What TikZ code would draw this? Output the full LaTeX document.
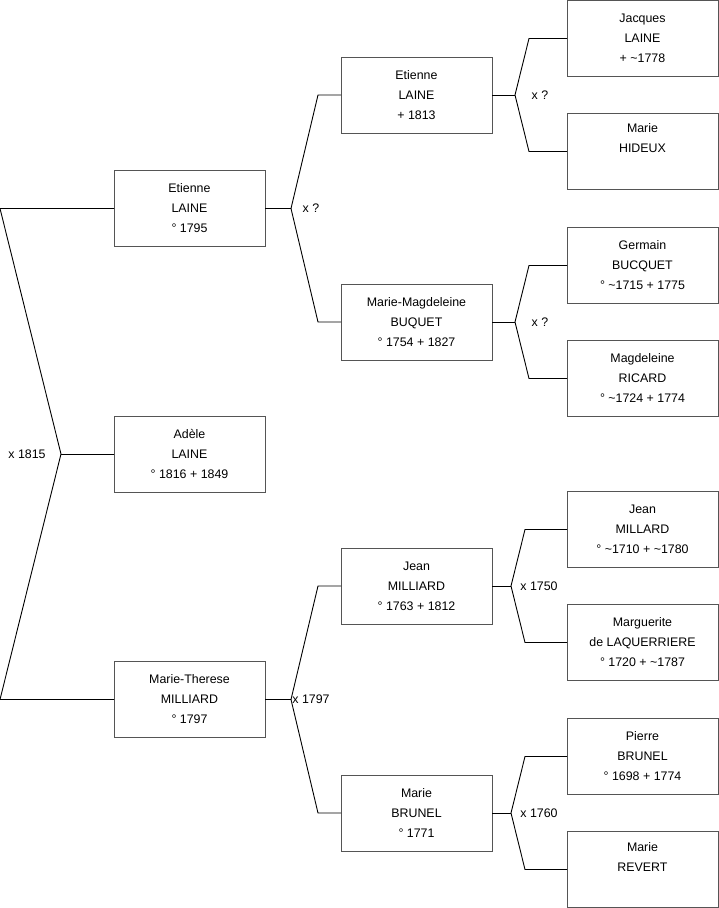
\documentclass[tikz,border=0pt]{standalone}
\usepackage{fontspec}
\setmainfont{Liberation Sans}
\usepackage{tikz}
\usetikzlibrary{
  positioning,
  calc
}
\definecolor{boxgray}{RGB}{85,85,85}
\tikzset{
  personbox/.style={
    draw=boxgray,
    line width=1pt,
    align=center,
    minimum width=151pt,
    minimum height=76pt,
    inner sep=0pt,
    outer sep=0pt,
    font=\fontsize{12.4}{20}\selectfont
  },
  link/.style={draw=black,line width=0.9pt,line join=miter},
  marriage/.style={font=\fontsize{12.4}{14}\selectfont,inner sep=0pt}
}

\begin{document}
\begin{tikzpicture}[x=1pt,y=-1pt]
  \useasboundingbox (0,0) rectangle (719,908);

  \node[personbox] (jacques) at (642.5,38.5) {Jacques\\LAINE\\+ \textasciitilde1778};
  \node[personbox,below=37pt of jacques] (hideux) {Marie\\HIDEUX\\\strut};
  \node[personbox,below=38pt of hideux] (germain) {Germain\\BUCQUET\\° \textasciitilde1715 + 1775};
  \node[personbox,below=37pt of germain] (ricard) {Magdeleine\\RICARD\\° \textasciitilde1724 + 1774};
  \node[personbox,below=75pt of ricard] (millard) {Jean\\MILLARD\\° \textasciitilde1710 + \textasciitilde1780};
  \node[personbox,below=37pt of millard] (laquerriere) {Marguerite\\de LAQUERRIERE\\° 1720 + \textasciitilde1787};
  \node[personbox,below=38pt of laquerriere] (pierre) {Pierre\\BRUNEL\\° 1698 + 1774};
  \node[personbox,below=37pt of pierre] (revert) {Marie\\REVERT\\\strut};

  \node[personbox] (etienneII) at ($(jacques)!0.5!(hideux)+(-226,0)$) {Etienne\\LAINE\\+ 1813};
  \node[personbox] (buquet) at ($(germain)!0.5!(ricard)+(-226,0)$) {Marie-Magdeleine\\BUQUET\\° 1754 + 1827};
  \node[personbox] (milliard) at ($(millard)!0.5!(laquerriere)+(-226,0)$) {Jean\\MILLIARD\\° 1763 + 1812};
  \node[personbox] (brunel) at ($(pierre)!0.5!(revert)+(-226,0)$) {Marie\\BRUNEL\\° 1771};

  \node[personbox] (etienneI) at ($(etienneII)!0.5!(buquet)+(-227,0)$) {Etienne\\LAINE\\° 1795};
  \node[personbox] (therese) at ($(milliard)!0.5!(brunel)+(-227,0)$) {Marie-Therese\\MILLIARD\\° 1797};
  \node[personbox] (adele) at ($(etienneI)!0.5!(therese)$) {Adèle\\LAINE\\° 1816 + 1849};

  \draw[link] (adele.west) -- ++(-53,0) coordinate (xAL);
  \draw[link] (etienneI.west) -- ++(-114,0) -- (xAL) -- ([xshift=-114pt]therese.west) -- (therese.west);
  \node[marriage] at ([xshift=-34pt]xAL) {x 1815};

  \draw[link] (etienneI.east) -- ++(26,0) coordinate (xEI);
  \draw[link] (etienneII.west) -- ++(-23,0) -- (xEI) -- ([xshift=-23pt]buquet.west) -- (buquet.west);
  \node[marriage] at ([xshift=20pt]xEI) {x ?};

  \draw[link] (therese.east) -- ++(26,0) coordinate (xMT);
  \draw[link] (milliard.west) -- ++(-23,0) -- (xMT) -- ([xshift=-23pt]brunel.west) -- (brunel.west);
  \node[marriage] at ([xshift=20pt]xMT) {x 1797};

  \draw[link] (etienneII.east) -- ++(23,0) coordinate (xEL);
  \draw[link] (jacques.west) -- ++(-38,0) -- (xEL) -- ([xshift=-38pt]hideux.west) -- (hideux.west);
  \node[marriage] at ([xshift=25pt]xEL) {x ?};

  \draw[link] (buquet.east) -- ++(23,0) coordinate (xMB);
  \draw[link] (germain.west) -- ++(-38,0) -- (xMB) -- ([xshift=-38pt]ricard.west) -- (ricard.west);
  \node[marriage] at ([xshift=25pt]xMB) {x ?};

  \draw[link] (milliard.east) -- ++(19,0) coordinate (xJM);
  \draw[link] (millard.west) -- ++(-42,0) -- (xJM) -- ([xshift=-42pt]laquerriere.west) -- (laquerriere.west);
  \node[marriage] at ([xshift=28pt]xJM) {x 1750};

  \draw[link] (brunel.east) -- ++(19,0) coordinate (xMR);
  \draw[link] (pierre.west) -- ++(-42,0) -- (xMR) -- ([xshift=-42pt]revert.west) -- (revert.west);
  \node[marriage] at ([xshift=28pt]xMR) {x 1760};
\end{tikzpicture}
\end{document}
